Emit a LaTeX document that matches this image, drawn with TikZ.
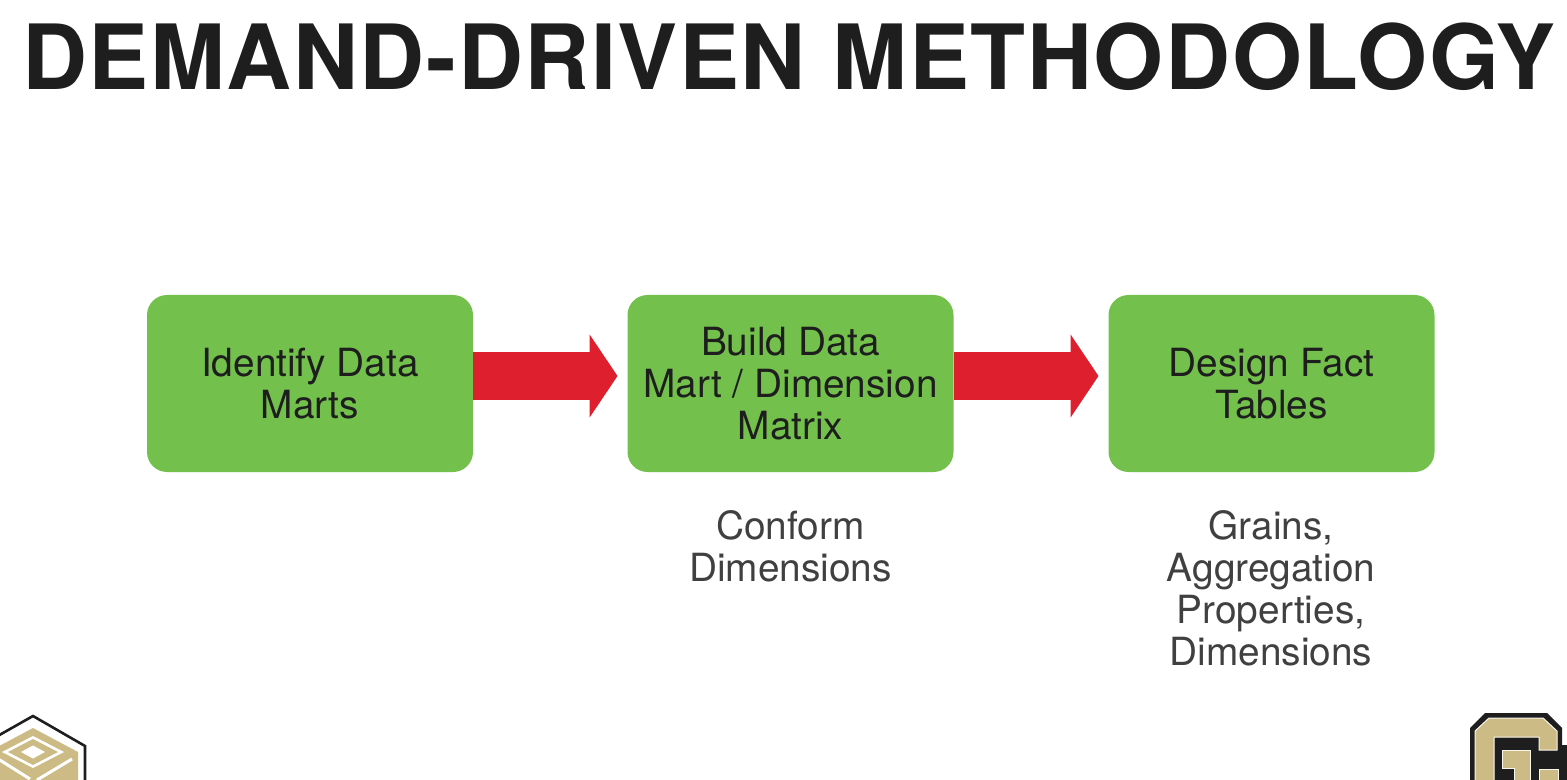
\documentclass[tikz,border=0pt]{standalone}
\usepackage{fontspec}
\setmainfont{TeX Gyre Heros}
\usetikzlibrary{arrows.meta}
\definecolor{boxgreen}{HTML}{73C14C}
\definecolor{arrowred}{HTML}{DD1F2E}
\definecolor{logogold}{HTML}{CDBB85}
\definecolor{inkdark}{HTML}{1E1E1E}
\tikzset{
  stage node/.style={rectangle,rounded corners=10pt,fill=boxgreen,minimum width=163pt,minimum height=88.5pt,inner sep=0pt,align=center,text=inkdark,font=\fontsize{19.4}{21}\selectfont},
  note node/.style={align=center,inner sep=0pt,text=inkdark!85,font=\fontsize{19.4}{21}\selectfont},
  red arrow/.style={draw=arrowred,line width=23.5pt,-{Triangle[length=14pt,width=41pt]},shorten >=4.8pt},
  logo edge/.style={draw=white!85!logogold,line width=0.5pt}
}
\begin{document}
\begin{tikzpicture}[x=0.5pt,y=-0.5pt]
\clip (0,0) rectangle (1567,780);
\node[font=\bfseries\fontsize{45}{50}\selectfont\addfontfeature{LetterSpace=1.75},text=inkdark,inner sep=0pt] (title) at (789,56.5) {DEMAND-DRIVEN METHODOLOGY};
\node[stage node] (marts) at (310,383.5) {Identify Data\\Marts};
\node[stage node] (matrix) at (790.5,383.5) {Build Data\\Mart / Dimension\\Matrix};
\node[stage node] (facts) at (1271.5,383.5) {Design Fact\\Tables};
\node[note node] (conform) at (790.5,546.5) {Conform\\Dimensions};
\node[note node] (grains) at (1271,588.5) {Grains,\\Aggregation\\Properties,\\Dimensions};
\draw[red arrow] ([yshift=3.75pt]marts.east) -- ([yshift=3.75pt]matrix.west);
\draw[red arrow] ([yshift=3.75pt]matrix.east) -- ([yshift=3.75pt]facts.west);
% left logo
\draw[inkdark,line width=1.3pt,fill=white] (-20,746) -- (33,716) -- (85,746) -- (85,800) -- (-20,800) -- cycle;
\fill[logogold] (33,728) -- (78,752) -- (78,800) -- (-12,800) -- (-12,752) -- cycle;
\fill[white] (33,736) -- (64,752) -- (33,768) -- (2,752) -- cycle;
\fill[logogold] (33,739) -- (58,752) -- (33,765) -- (8,752) -- cycle;
\fill[white] (33,745.5) -- (45,752) -- (33,758.5) -- (21,752) -- cycle;
\draw[white,line width=1.5pt] (37,780) -- (72,759);
\draw[white,line width=1.5pt] (-5,757) -- (30,779);
% right logo
\fill[inkdark] (1485,713) -- (1547,713) -- (1562,728) -- (1562,745) -- (1580,745) -- (1580,800) -- (1470,800) -- (1470,728) -- cycle;
\fill[logogold,logo edge] (1489,718) -- (1543,718) -- (1557,731) -- (1557,750) -- (1539,750) -- (1539,737) -- (1494,737) -- (1494,800) -- (1475,800) -- (1475,731) -- cycle;
\fill[logogold,logo edge] (1502,750) -- (1530,750) -- (1530,800) -- (1514,800) -- (1514,768) -- (1502,768) -- cycle;
\fill[logogold,logo edge] (1539,769) -- (1558,769) -- (1558,800) -- (1539,800) -- cycle;
\end{tikzpicture}
\end{document}
